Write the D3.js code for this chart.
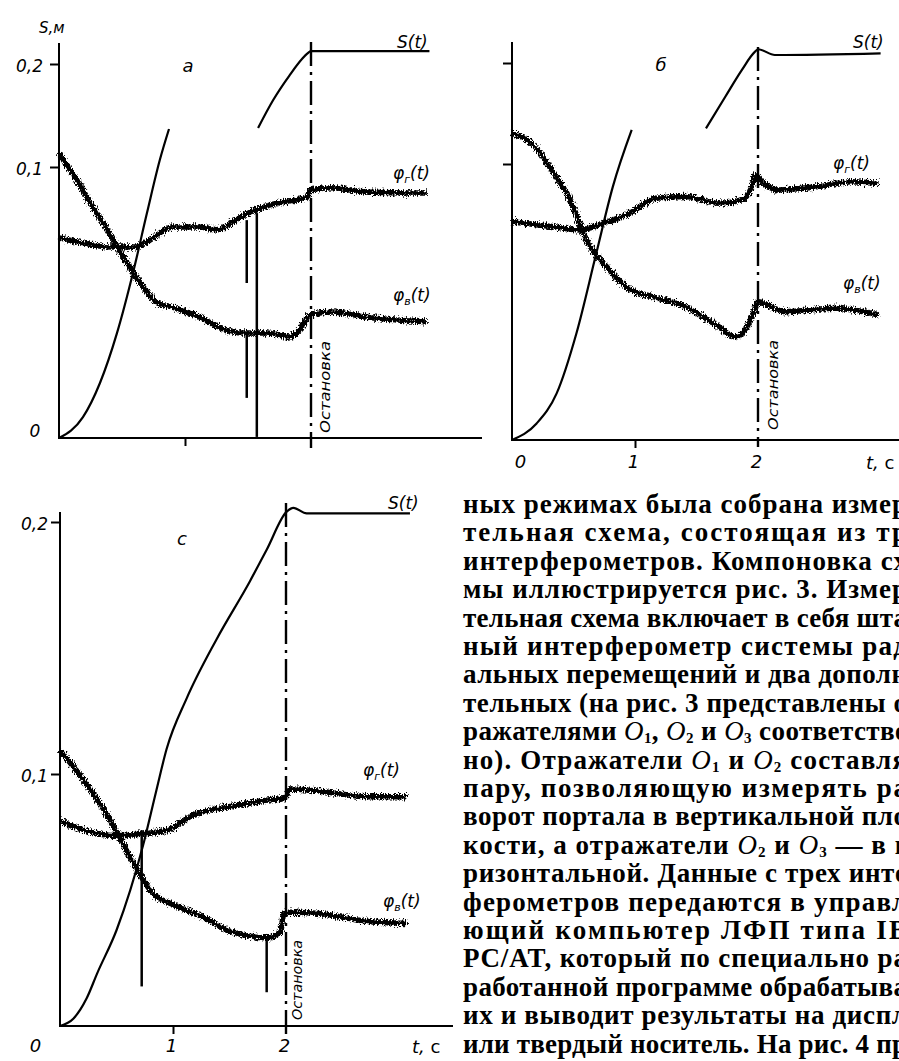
<!doctype html>
<html lang="ru">
<head>
<meta charset="UTF-8">
<title>S(t), φг(t), φв(t)</title>
<style>
  body { margin: 0; background: #fff; }
  svg { display: block; }
  .ax { stroke: #000; stroke-width: 2; }
  .lbl { font-family: "DejaVu Sans", sans-serif; font-style: italic; fill: #000; }
  .txt { font-family: "Liberation Serif", serif; font-weight: bold; font-size: 27px; fill: #000; }
</style>
</head>
<body>
<svg></svg>
<script src="https://d3js.org/d3.v7.min.js"></script>
<script>
// t, c  ->  S, м   (null = break in the trace)
const sA = [[0,0],[0.19,0.0077],[0.325,0.0203],[0.46,0.0387],[0.587,0.0609],[0.698,0.083],[0.80,0.1068],[0.873,0.1369],
            null,[1.58,0.1379],[1.70,0.165],[1.83,0.189],[1.93,0.205],[1.97,0.210],[2.0,0.2125],[2.94,0.2125]];
const phiGA = [[0,0.0738],[0.19,0.0720],[0.40,0.0705],[0.59,0.0705],[0.72,0.0731],[0.90,0.0779],[1.12,0.0779],[1.25,0.0768],
               [1.44,0.0815],[1.60,0.0849],[1.78,0.0871],[1.97,0.0889],[1.99,0.0915],[2.17,0.0923],[2.44,0.0908],[2.92,0.0904]];
const phiVA = [[0,0.1136],[0.14,0.0952],[0.27,0.0852],[0.40,0.0756],[0.54,0.0646],[0.67,0.0557],[0.78,0.0498],[0.90,0.0483],
               [1.12,0.0446],[1.28,0.0406],[1.46,0.0387],[1.65,0.0387],[1.83,0.0373],[1.91,0.0399],[1.99,0.0454],[2.17,0.0465],
               [2.44,0.0446],[2.92,0.0428]];
const spikesA = [[1.49,0.0804,0.0572],[1.49,0.0387,0.0148],[1.57,0.083,0.0004]];

const sB = [[0,0],[0.20,0.006],[0.363,0.0169],[0.524,0.0387],[0.685,0.0676],[0.82,0.0918],[0.973,0.1337],
            null,[1.577,0.1353],[1.734,0.1666],[1.868,0.193],[1.976,0.2112],[2.002,0.2136],[2.137,0.2079],[2.997,0.2096]];
const phiGB = [[0,0.0791],[0.336,0.0773],[0.551,0.0761],[0.739,0.0785],[0.954,0.0821],[1.17,0.0876],[1.41,0.0882],[1.68,0.0858],
               [1.868,0.0870],[1.95,0.0918],[1.976,0.0960],[2.03,0.0936],[2.163,0.0906],[2.49,0.0918],[2.755,0.0936],[2.98,0.0930]];
const phiVB = [[0,0.1304],[0.161,0.1205],[0.323,0.0978],[0.484,0.0858],[0.605,0.0725],[0.793,0.0616],[0.927,0.0555],[1.141,0.0519],
               [1.41,0.0483],[1.68,0.0411],[1.815,0.0374],[1.895,0.0399],[1.962,0.0459],[2.002,0.0501],[2.217,0.0465],[2.62,0.0477],
               [2.98,0.0453]];
const spikesB = [];

const sC = [[0,0],[0.12,0.003],[0.236,0.011],[0.33,0.021],[0.5,0.038],[0.737,0.072],[0.85,0.093],[0.944,0.110],[1.121,0.130],
            [1.386,0.1535],[1.681,0.1765],[1.829,0.189],[2.006,0.2041],[2.065,0.2056],[2.183,0.2034],[3.097,0.2034]];
const phiGC = [[0,0.0814],[0.206,0.0777],[0.501,0.0755],[0.737,0.0763],[0.944,0.0777],[1.18,0.0837],[1.534,0.0873],[1.829,0.0896],
               [1.991,0.0903],[2.035,0.0940],[2.271,0.0933],[2.714,0.0910],[3.068,0.0910]];
const phiVC = [[0,0.1093],[0.2,0.0982],[0.42,0.0836],[0.65,0.0646],[0.82,0.0527],[1.0,0.0482],[1.24,0.0438],[1.53,0.0372],
               [1.83,0.0350],[1.95,0.0372],[1.98,0.0447],[2.04,0.0451],[2.27,0.0447],[2.71,0.0416],[3.07,0.0407]];
const spikesC = [[0.723,0.0777,0.0157],[1.829,0.0349,0.0134]];

const stopT = 2;
const yTickVals = [0.1, 0.2];
const xLabelVals = [0, 1, 2];

const textLines = [
  "ных режимах была собрана измер",
  "тельная схема, состоящая из тр",
  "интерферометров. Компоновка сх",
  "мы иллюстрируется рис. 3. Измер",
  "тельная схема включает в себя шта",
  "ный интерферометр системы рад",
  "альных перемещений и два дополн",
  "тельных (на рис. 3 представлены о",
  "ражателями O1, O2 и O3 соответстве",
  "но). Отражатели O1 и O2 составля",
  "пару, позволяющую измерять ра",
  "ворот портала в вертикальной пло",
  "кости, а отражатели O2 и O3 — в г",
  "ризонтальной. Данные с трех инте",
  "ферометров передаются в управл",
  "ющий компьютер ЛФП типа IB",
  "PC/AT, который по специально ра",
  "работанной программе обрабатыва",
  "их и выводит результаты на диспл",
  "или твердый носитель. На рис. 4 пр"
];

const W = 899, H = 1061;
const svg = d3.select('svg').attr('width', W).attr('height', H);

const defs = svg.append('defs');
const flt = defs.append('filter').attr('id', 'rough').attr('filterUnits', 'userSpaceOnUse')
  .attr('x', 0).attr('y', 0).attr('width', W).attr('height', H);
flt.append('feTurbulence').attr('type', 'fractalNoise').attr('baseFrequency', '1.1 0.45')
  .attr('numOctaves', 2).attr('seed', 4).attr('result', 'n');
flt.append('feDisplacementMap').attr('in', 'SourceGraphic').attr('in2', 'n').attr('scale', 8)
  .attr('xChannelSelector', 'R').attr('yChannelSelector', 'G');

const fmt = d => String(d).replace('.', ',');

const panels = [
  { s: sA, g: phiGA, v: phiVA, spikes: spikesA,
    x: d3.scaleLinear().domain([0, 2]).range([59, 311]),
    y: d3.scaleLinear().domain([0, 0.1, 0.2]).range([438, 167, 64]),
    axisEnd: 482, yTop: 43, stop: [42, 448], xTicks: [1], yLabels: true, yPad: 7,
    letter: ['а', 188, 72], sLab: [397, 48], gLab: [393, 179], vLab: [393, 301],
    stopLab: [325, 387, 92], zeroLab: [35, 437], xLab: null },
  { s: sB, g: phiGB, v: phiVB, spikes: spikesB,
    x: d3.scaleLinear().domain([0, 2]).range([512, 758]),
    y: d3.scaleLinear().domain([0, 0.1, 0.2]).range([440, 164, 63]),
    axisEnd: 899, yTop: 42, stop: [47, 447], xTicks: [1], yLabels: false, yPad: 7,
    letter: ['б', 661, 71], sLab: [853, 48], gLab: [833, 169], vLab: [843, 289],
    stopLab: [773, 385, 90], zeroLab: null, xLab: { y: 469, zeroDx: 8, t: [866, 469] } },
  { s: sC, g: phiGC, v: phiVC, spikes: spikesC,
    x: d3.scaleLinear().domain([0, 2]).range([60, 286]),
    y: d3.scaleLinear().domain([0, 0.2]).range([1026, 522]),
    axisEnd: 453, yTop: 512, stop: [503, 1035], xTicks: [1], yLabels: true, yPad: 3,
    letter: ['с', 182, 545], sLab: [388, 509], gLab: [363, 776], vLab: [383, 907],
    stopLab: [297, 980, 80], zeroLab: null, xLab: { y: 1053, zeroDx: -25, t: [412, 1053] } }
];

function phiLabel(g, pos, sub) {
  const t = g.append('text').attr('class', 'lbl').attr('x', pos[0]).attr('y', pos[1]).attr('font-size', 17);
  t.append('tspan').text('φ');
  t.append('tspan').attr('font-size', 11).attr('dy', 4).text(sub);
  t.append('tspan').attr('dy', -4).text('(t)');
}

function drawPanel(p) {
  const g = svg.append('g');
  const x0 = p.x(0), y0 = p.y(0);
  const line = d3.line().defined(d => d !== null).x(d => p.x(d[0])).y(d => p.y(d[1]))
    .curve(d3.curveMonotoneX);

  // axes
  g.append('line').attr('class', 'ax').attr('x1', x0).attr('x2', x0).attr('y1', p.yTop).attr('y2', y0 + 1);
  g.append('line').attr('class', 'ax').attr('x1', x0 - 1).attr('x2', p.axisEnd).attr('y1', y0).attr('y2', y0);

  const ya = g.append('g').attr('transform', `translate(${x0},0)`)
    .call(d3.axisLeft(p.y).tickValues(yTickVals).tickSize(9).tickPadding(p.yPad).tickFormat(p.yLabels ? fmt : ''));
  ya.select('.domain').remove();
  ya.selectAll('line').attr('stroke-width', 2);
  ya.selectAll('text').attr('class', 'lbl').attr('font-size', 17).attr('dy', '0.45em');
  ya.attr('font-family', null).attr('font-size', null);

  const xa = g.append('g').attr('transform', `translate(0,${y0})`)
    .call(d3.axisBottom(p.x).tickValues(p.xTicks).tickSize(8).tickFormat(''));
  xa.select('.domain').remove();
  xa.selectAll('line').attr('stroke-width', 2);

  if (p.xLab) {
    const xl = g.append('g').attr('transform', `translate(0,${p.xLab.y - 14})`)
      .call(d3.axisBottom(p.x).tickValues(xLabelVals).tickSize(0).tickPadding(0).tickFormat(d3.format('d')));
    xl.select('.domain').remove();
    xl.attr('font-family', null).attr('font-size', null);
    xl.selectAll('text').attr('class', 'lbl').attr('font-size', 18)
      .attr('dx', d => d === 0 ? p.xLab.zeroDx : -2);
    const tl = g.append('text').attr('class', 'lbl').attr('x', p.xLab.t[0]).attr('y', p.xLab.t[1]).attr('font-size', 18);
    tl.append('tspan').text('t, ');
    tl.append('tspan').attr('font-style', 'normal').text('с');
  }
  if (p.zeroLab) {
    g.append('text').attr('class', 'lbl').attr('x', p.zeroLab[0]).attr('y', p.zeroLab[1])
      .attr('font-size', 17).attr('text-anchor', 'middle').text('0');
  }

  // stop line
  const xs = p.x(stopT);
  g.append('line').attr('x1', xs).attr('x2', xs).attr('y1', p.stop[0]).attr('y2', p.stop[1])
    .attr('stroke', '#000').attr('stroke-width', 2.4).attr('stroke-dasharray', '24,6,3,6');
  g.append('text').attr('class', 'lbl').attr('font-size', 14)
    .attr('transform', `translate(${p.stopLab[0] + 5},${p.stopLab[1]}) rotate(-90)`)
    .attr('text-anchor', 'middle').attr('textLength', p.stopLab[2]).attr('lengthAdjust', 'spacingAndGlyphs')
    .text('Остановка');

  // S(t)
  g.append('path').datum(p.s).attr('d', line).attr('fill', 'none').attr('stroke', '#000').attr('stroke-width', 2.2);

  // noisy traces
  const tr = g.append('g').attr('filter', 'url(#rough)');
  [p.g, p.v].forEach(ser => {
    tr.append('path').datum(ser).attr('d', line).attr('fill', 'none').attr('stroke', '#000')
      .attr('stroke-width', 5.5).attr('stroke-linejoin', 'round');
  });
  g.selectAll('.spike').data(p.spikes).join('line').attr('class', 'spike')
    .attr('x1', d => p.x(d[0])).attr('x2', d => p.x(d[0]))
    .attr('y1', d => p.y(d[1])).attr('y2', d => p.y(d[2]))
    .attr('stroke', '#000').attr('stroke-width', 2.5);

  // labels
  g.append('text').attr('class', 'lbl').attr('x', p.sLab[0]).attr('y', p.sLab[1]).attr('font-size', 17).text('S(t)');
  phiLabel(g, p.gLab, 'г');
  phiLabel(g, p.vLab, 'в');
  g.append('text').attr('class', 'lbl').attr('x', p.letter[1]).attr('y', p.letter[2])
    .attr('font-size', 18).attr('text-anchor', 'middle').text(p.letter[0]);
}

panels.forEach(drawPanel);

svg.append('text').attr('class', 'lbl').attr('x', 39).attr('y', 33).attr('font-size', 15).text('S,м');

// text column on the right (cut by the page edge, as in the scan)
const tb = svg.append('g');
textLines.forEach((ln, i) => {
  const t = tb.append('text').attr('class', 'txt').attr('x', 463).attr('y', 513 + i * 28.4)
    .attr('textLength', 444).attr('lengthAdjust', 'spacing');
  let shift = 0;
  ln.split(/(O[123])/).forEach(part => {
    if (!part) return;
    if (/^O[123]$/.test(part)) {
      t.append('tspan').attr('dy', shift ? -shift : null).attr('font-style', 'italic').attr('font-weight', 'normal').text('O');
      t.append('tspan').attr('font-size', 15).attr('dy', 3).text(part[1]);
      shift = 3;
    } else {
      t.append('tspan').attr('dy', shift ? -shift : null).text(part);
      shift = 0;
    }
  });
});
</script>
</body>
</html>
